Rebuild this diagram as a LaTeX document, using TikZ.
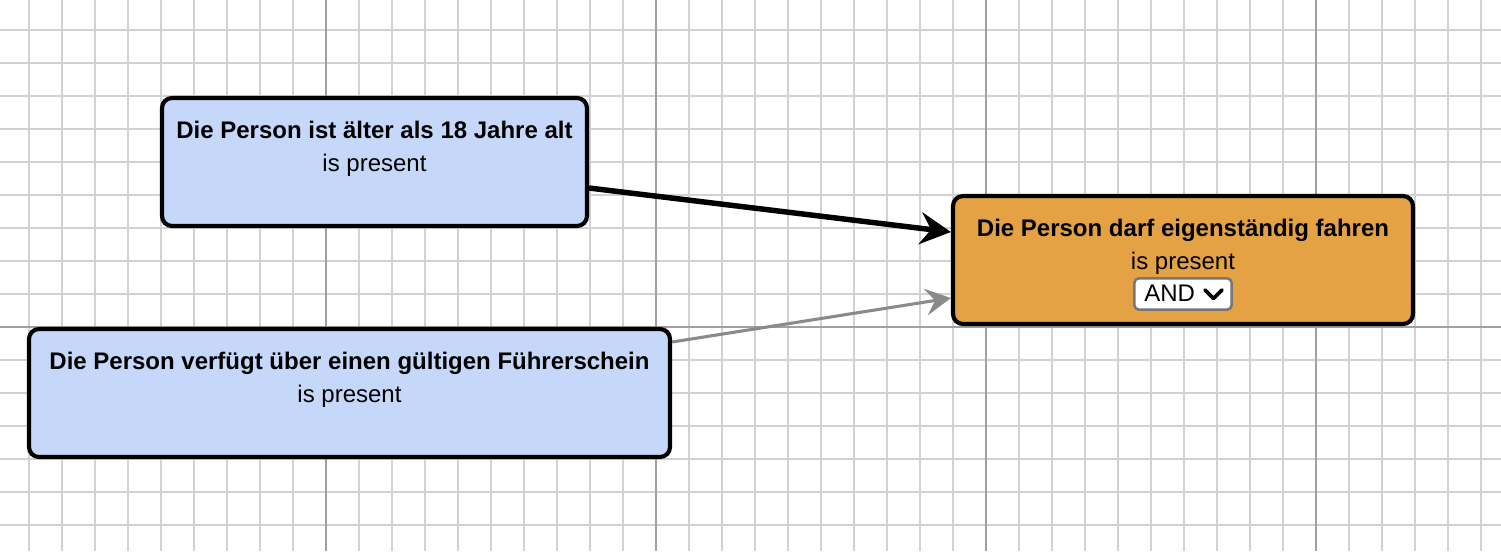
\documentclass[tikz,border=0pt]{standalone}
\usepackage{fontspec}
\setmainfont{Liberation Sans}
\usetikzlibrary{arrows.meta,calc}
\definecolor{nodeblue}{RGB}{198,216,250}
\definecolor{nodeorange}{RGB}{229,162,69}
\definecolor{gridminor}{RGB}{210,210,210}
\definecolor{gridmajor}{RGB}{160,160,160}
\definecolor{edgegray}{RGB}{138,138,138}
\definecolor{selborder}{RGB}{118,118,118}
\tikzset{
  box/.style={draw=black, line width=3.1pt, rounded corners=7.5pt, inner sep=0pt, minimum height=96pt},
  titletext/.style={font=\bfseries\fontsize{18}{22}\selectfont, inner sep=0pt, anchor=base},
  subtext/.style={font=\fontsize{18}{22}\selectfont, inner sep=0pt, anchor=base},
  selectbox/.style={draw=selborder, fill=white, line width=1.9pt, rounded corners=3.5pt, inner sep=0pt, minimum width=73pt, minimum height=23.5pt},
  mainedge/.style={draw=black, line width=4.1pt, -{Stealth[length=23pt, width=24pt, inset=8pt]}},
  sideedge/.style={draw=edgegray, line width=2.3pt, -{Stealth[length=19pt, width=20pt, inset=7pt]}},
  gminor/.style={draw=gridminor, line width=1.6pt},
  gmajor/.style={draw=gridmajor, line width=1.2pt},
}
\begin{document}
\begin{tikzpicture}[x=0.75pt,y=-0.75pt]
\useasboundingbox (0,0) rectangle (1501,551);
\fill[white] (0,0) rectangle (1501,551);
% grid
\foreach \i in {0,...,44} {
  \pgfmathsetmacro{\gx}{29+33*\i}
  \draw[gminor] (\gx,0) -- (\gx,551);
}
\foreach \j in {0,...,15} {
  \pgfmathsetmacro{\gy}{30+33*\j}
  \draw[gminor] (0,\gy) -- (1501,\gy);
}
\foreach \gx in {326,656,986,1316} {
  \draw[gmajor] (\gx,0) -- (\gx,551);
}
\draw[gmajor] (0,327) -- (1501,327);
% boxes
\node[box, fill=nodeblue, minimum width=318.75pt] (b1) at (374.5,162) {};
\node[box, fill=nodeblue, minimum width=480.75pt] (b2) at (349.5,393) {};
\node[box, fill=nodeorange, minimum width=345pt] (b3) at (1183,260) {};
% texts
\node[titletext] (t1) at (374.5,138) {Die Person ist älter als 18 Jahre alt};
\node[subtext] (s1) at (374.5,171) {is present};
\node[titletext] (t2) at (349.5,369) {Die Person verfügt über einen gültigen Führerschein};
\node[subtext] (s2) at (349.5,402) {is present};
\node[titletext] (t3) at (1183,236) {Die Person darf eigenständig fahren};
\node[subtext] (s3) at (1183,269) {is present};
% dropdown
\node[selectbox] (sel) at (1183,294) {};
\node[subtext, anchor=base west] (andtxt) at (1144,301) {AND};
\coordinate (chl) at (1205,290);
\coordinate (chm) at (1213.5,298.5);
\coordinate (chr) at (1222,290);
\draw[line width=2.8pt, line cap=round, line join=round] (chl) -- (chm) -- (chr);
% edges
\draw[mainedge] ($(b1.east)+(0,26)$) -- ($(b3.west)+(0,-28)$);
\draw[sideedge] ($(b2.east)+(0,-51)$) -- ($(b3.west)+(0,38)$);
\end{tikzpicture}
\end{document}
